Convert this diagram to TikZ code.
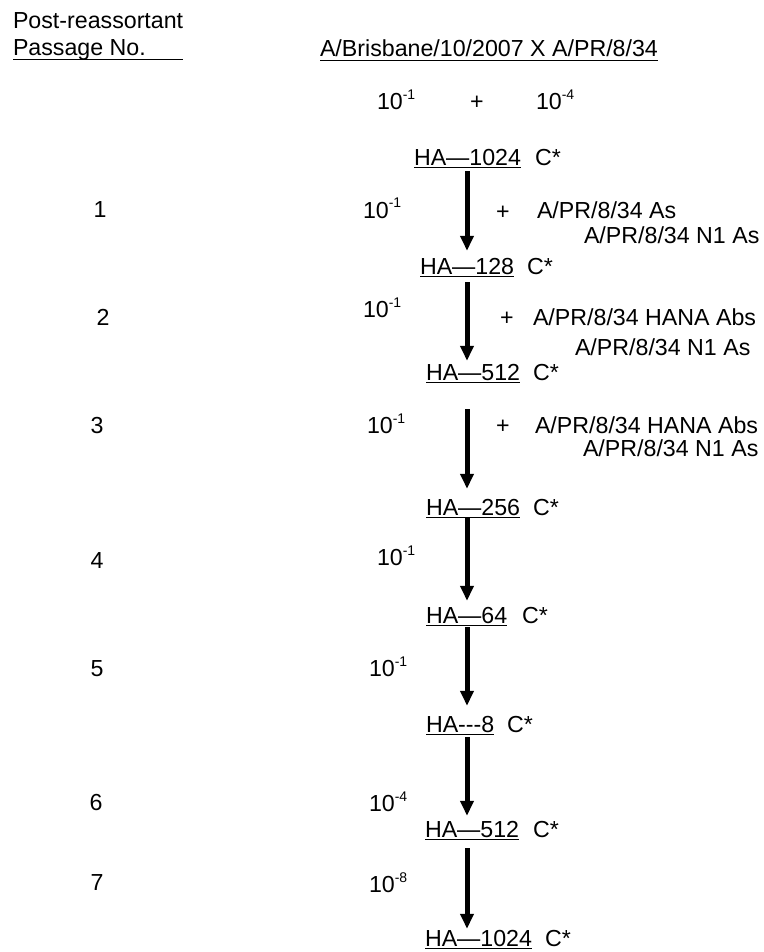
\documentclass[tikz,border=0pt]{standalone}
\usepackage{fontspec}
\setmainfont{Liberation Sans}
\usetikzlibrary{arrows.meta}
\newcommand{\sups}[1]{\raisebox{10pt}{\fontsize{14}{14}\selectfont #1}}
\newcommand{\pw}[1]{10\sups{-#1}}
\begin{document}
\begin{tikzpicture}[x=1pt,y=-1pt,
  txt/.style={inner sep=0pt,outer sep=0pt,anchor=base west,font=\fontsize{23.2}{27}\selectfont},
  num/.style={txt,anchor=base},
  uline/.style={line width=1.4pt},
  bigarrow/.style={line width=5pt,-{Triangle[width=13pt,length=15pt]}}]
\useasboundingbox[fill=white] (0,0) rectangle (763,952);
% headers
\node[txt] (h1) at (13,29) {Post-reassortant};
\node[txt] (h2) at (13,56) {Passage No.};
\draw[uline] ([yshift=-3.3pt]h2.base west) -- ++(170,0);
\node[txt] (title) at (320,57) {A/Brisbane/10/2007 X A/PR/8/34};
\draw[uline] ([yshift=-3.3pt]title.base west) -- ([yshift=-3.3pt]title.base east);
% row 0
\node[txt] (d0a) at (377,110) {\pw{1}};
\node[txt] (p0) at (470,110) {+};
\node[txt] (d0b) at (536,110) {\pw{4}};
% HA nodes
\node[txt] (ha0) at (414,165) {HA—1024};
\node[txt] (c0) at (535,165) {C*};
\node[txt] (ha1) at (420,274) {HA—128};
\node[txt] (c1) at (527,274) {C*};
\node[txt] (ha2) at (426,380) {HA—512};
\node[txt] (c2) at (533,380) {C*};
\node[txt] (ha3) at (426,515) {HA—256};
\node[txt] (c3) at (533,515) {C*};
\node[txt] (ha4) at (426,623) {HA—64};
\node[txt] (c4) at (522,623) {C*};
\node[txt] (ha5) at (426,732) {HA\mbox{-}\mbox{-}\mbox{-}8};
\node[txt] (c5) at (507,732) {C*};
\node[txt] (ha6) at (425,837) {HA—512};
\node[txt] (c6) at (533,837) {C*};
\node[txt] (ha7) at (425,946) {HA—1024};
\node[txt] (c7) at (545,946) {C*};
\foreach \n in {ha0,ha1,ha2,ha3,ha4,ha5,ha6,ha7}{
  \draw[uline] ([yshift=-2.6pt]\n.base west) -- ([yshift=-2.6pt]\n.base east);
}
% arrows
\coordinate (ax) at (467,0);
\draw[bigarrow,shorten <=6pt,shorten >=7pt] (ha0.south -| ax) -- (ha1.north -| ax);
\draw[bigarrow,shorten <=8pt,shorten >=3pt] (ha1.south -| ax) -- (ha2.north -| ax);
\draw[bigarrow,shorten <=29pt,shorten >=10pt] (ha2.south -| ax) -- (ha3.north -| ax);
\draw[bigarrow,shorten <=3pt,shorten >=6pt] (ha3.south -| ax) -- (ha4.north -| ax);
\draw[bigarrow,shorten <=4pt,shorten >=10pt] (ha4.south -| ax) -- (ha5.north -| ax);
\draw[bigarrow,shorten <=5pt,shorten >=5pt] (ha5.south -| ax) -- (ha6.north -| ax);
\draw[bigarrow,shorten <=11pt,shorten >=1pt] (ha6.south -| ax) -- (ha7.north -| ax);
% passage numbers
\node[num] (n1) at (100,217) {1};
\node[num] (n2) at (103,325) {2};
\node[num] (n3) at (97,433) {3};
\node[num] (n4) at (97,568) {4};
\node[num] (n5) at (97,676) {5};
\node[num] (n6) at (96,810) {6};
\node[num] (n7) at (97,890) {7};
% dilutions
\node[txt] (d1) at (363,218) {\pw{1}};
\node[txt] (d2) at (363,317) {\pw{1}};
\node[txt] (d3) at (367,433) {\pw{1}};
\node[txt] (d4) at (377,565) {\pw{1}};
\node[txt] (d5) at (369,676) {\pw{1}};
\node[txt] (d6) at (369,811) {\pw{4}};
\node[txt] (d7) at (369,892) {\pw{8}};
% additions
\node[txt] (p1) at (496,219) {+};
\node[txt] (a1) at (537,218) {A/PR/8/34 As};
\node[txt] (b1) at (584,243) {A/PR/8/34 N1 As};
\node[txt] (p2) at (500,325) {+};
\node[txt] (a2) at (533,325) {A/PR/8/34 HANA Abs};
\node[txt] (b2) at (575,355) {A/PR/8/34 N1 As};
\node[txt] (p3) at (496,433) {+};
\node[txt] (a3) at (535,433) {A/PR/8/34 HANA Abs};
\node[txt] (b3) at (583,456) {A/PR/8/34 N1 As};
\end{tikzpicture}
\end{document}
